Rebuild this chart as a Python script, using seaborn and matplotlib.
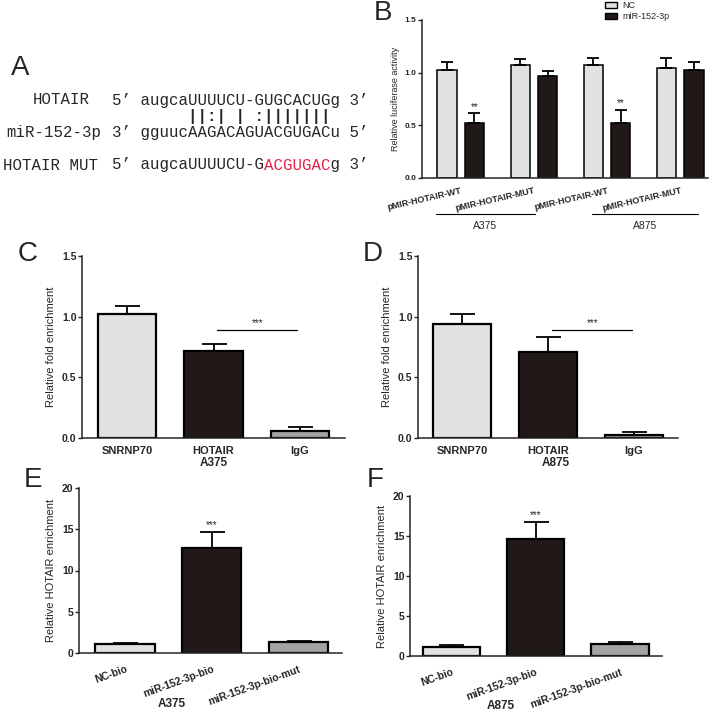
import matplotlib
matplotlib.use("Agg")
import matplotlib.patches as mpatches
import matplotlib.pyplot as plt
import matplotlib.transforms as mtransforms
import pandas as pd
import seaborn as sns

# ── Data ─────────────────────────────────────────────────────────────────────
# A: sequence alignment
seq_names = ["HOTAIR", "miR-152-3p", "HOTAIR MUT"]
seq_hotair = "5’ augcaUUUUCU-GUGCACUGg 3’"
seq_pairs = "        ||:| | :|||||||"
seq_mir = "3’ gguucAAGACAGUACGUGACu 5’"
seq_mut = "5’ augcaUUUUCU-GACGUGACg 3’"
mut_span = (16, 23)

# B: luciferase reporter
b_constructs = ["pMIR-HOTAIR-WT", "pMIR-HOTAIR-MUT", "pMIR-HOTAIR-WT", "pMIR-HOTAIR-MUT"]
b_cells = ["A375", "A375", "A875", "A875"]
b_groups = ["NC", "miR-152-3p"]
b_nc = [1.03, 1.07, 1.07, 1.04]
b_nc_err = [0.07, 0.06, 0.07, 0.10]
b_mir = [0.52, 0.97, 0.52, 1.03]
b_mir_err = [0.10, 0.05, 0.13, 0.07]

# C/D: RIP
rip_targets = ["SNRNP70", "HOTAIR", "IgG"]
c_vals = [1.02, 0.72, 0.06]
c_err = [0.065, 0.055, 0.032]
d_vals = [0.94, 0.71, 0.027]
d_err = [0.08, 0.12, 0.025]

# E/F: biotin pull-down
pull_probes = ["NC-bio", "miR-152-3p-bio", "miR-152-3p-bio-mut"]
e_vals = [1.05, 12.75, 1.35]
e_err = [0.13, 1.9, 0.15]
f_vals = [1.17, 14.6, 1.55]
f_err = [0.17, 2.2, 0.2]

LIGHT, DARK, GREY = "#e1e2e2", "#231815", "#a3a3a3"
LETTER_FONT = ["Liberation Sans Narrow", "Liberation Sans", "DejaVu Sans"]
W, H = 720, 712

sns.set_theme(style="white")
plt.rcParams["font.family"] = ["Liberation Sans", "DejaVu Sans"]
plt.rcParams["axes.linewidth"] = 1.1

fig = plt.figure(figsize=(W / 100, H / 100), dpi=100)


def px_axes(left, top, right, bottom):
    return fig.add_axes([left / W, 1 - bottom / H, (right - left) / W, (bottom - top) / H])


def fig_text(x, y, s, **kw):
    fig.text(x / W, 1 - y / H, s, **kw)


def letter(x, y, s):
    fig_text(x, y, s, family=LETTER_FONT, fontsize=20, ha="center", va="center")


def style_axes(ax, ylim, yticks, fmt, tick_fs):
    ax.set_ylim(*ylim)
    ax.set_yticks(yticks)
    ax.set_yticklabels([fmt.format(t) for t in yticks], fontsize=tick_fs, fontweight="bold")
    sns.despine(ax=ax)
    ax.spines["left"].set_bounds(ylim[0], ylim[1])
    ax.tick_params(axis="y", left=True, length=3, width=1, pad=1)
    ax.tick_params(axis="x", bottom=False, pad=0)


def add_errors(ax, errs, capsize):
    for patch, err in zip(ax.patches, errs):
        x = patch.get_x() + patch.get_width() / 2
        y = patch.get_height()
        ax.errorbar(x, y, yerr=[[0], [err]], fmt="none", ecolor="black",
                    elinewidth=1.3, capsize=capsize, capthick=1.3, zorder=1)


# ── A: alignment ─────────────────────────────────────────────────────────────
mono = dict(family="Liberation Mono", fontsize=11.3, va="center", ha="left")
letter(20, 68, "A")
fig_text(33, 100, seq_names[0], **mono)
fig_text(6, 133, seq_names[1], **mono)
fig_text(3, 165, seq_names[2], **mono)
fig_text(112, 100, seq_hotair, **mono)
fig_text(112, 117, seq_pairs, fontweight="bold", **mono)
fig_text(112, 133, seq_mir, **mono)
lo, hi = mut_span
black_part = seq_mut[:lo] + " " * (hi - lo) + seq_mut[hi:]
red_part = " " * lo + seq_mut[lo:hi]
fig_text(112, 165, black_part, **mono)
fig_text(112, 165, red_part, color="#e8204a", **mono)

# ── B: luciferase ────────────────────────────────────────────────────────────
b_keys = [f"{c} {k}" for c, k in zip(b_cells, b_constructs)]
df_b = pd.DataFrame({
    "key": b_keys * 2,
    "group": [b_groups[0]] * 4 + [b_groups[1]] * 4,
    "value": b_nc + b_mir,
})
axb = px_axes(422, 20, 708, 178)
sns.barplot(data=df_b, x="key", y="value", hue="group", order=b_keys, hue_order=b_groups,
            palette=[LIGHT, DARK], edgecolor="black", linewidth=1.1, width=0.75, gap=0.3,
            errorbar=None, legend=False, ax=axb)
add_errors(axb, b_nc_err + b_mir_err, 4)
axb.set_xlim(-0.53, 3.38)
style_axes(axb, (0, 1.5), [0, 0.5, 1.0, 1.5], "{:.1f}", 6)
axb.set_xticks(range(4))
axb.set_xticklabels(b_constructs, rotation=13, ha="right", rotation_mode="anchor",
                    fontsize=6.5, fontweight="bold")
axb.set_xlabel("")
axb.set_ylabel("Relative luciferase activity", fontsize=6.5, labelpad=3)
for i, (v, e) in enumerate(zip(b_mir, b_mir_err)):
    if b_constructs[i].endswith("WT"):
        x = axb.patches[4 + i].get_x() + axb.patches[4 + i].get_width() / 2
        axb.text(x, v + e + 0.01, "**", ha="center", va="bottom", fontsize=7)
trans = mtransforms.blended_transform_factory(axb.transData, axb.transAxes)
for x0, x1, cell in [(-0.34, 1.01, "A375"), (1.79, 3.25, "A875")]:
    axb.plot([x0, x1], [-0.228, -0.228], color="black", lw=0.8, transform=trans, clip_on=False)
    axb.text((x0 + x1) / 2, -0.27, cell, ha="center", va="top", fontsize=7.5, transform=trans)
letter(383, 13, "B")
handles = [mpatches.Patch(facecolor=c, edgecolor="black", linewidth=1, label=g)
           for c, g in zip([LIGHT, DARK], b_groups)]
fig.legend(handles=handles, loc="upper left", bbox_to_anchor=(604 / W, 1 - 0 / H),
           frameon=False, fontsize=6.5, handlelength=1.3, handleheight=0.7,
           labelspacing=0.25, borderaxespad=0, borderpad=0.1, handletextpad=0.6)


# ── C-F: single-series panels ────────────────────────────────────────────────
def single_panel(box, cats, vals, errs, ylim, yticks, fmt, ylabel, xlabel, xlim,
                 xlabel_pos, rotate, name, name_xy, star_y=None, sig=None):
    ax = px_axes(*box)
    df = pd.DataFrame({"cat": cats, "value": vals})
    sns.barplot(data=df, x="cat", y="value", hue="cat", order=cats, hue_order=cats,
                palette=[LIGHT, DARK, GREY], edgecolor="black", linewidth=1.6,
                width=0.68, errorbar=None, legend=False, ax=ax)
    add_errors(ax, errs, 9)
    ax.set_xlim(*xlim)
    style_axes(ax, ylim, yticks, fmt, 7.5)
    if rotate:
        ax.set_xticks(range(len(cats)))
        ax.set_xticklabels(cats, rotation=20, ha="right", rotation_mode="anchor",
                           fontsize=7.5, fontweight="bold")
        ax.tick_params(axis="x", pad=2)
    else:
        ax.tick_params(axis="x", labelsize=8)
        for t in ax.get_xticklabels():
            t.set_fontweight("bold")
    ax.set_ylabel(ylabel, fontsize=8, labelpad=4)
    ax.set_xlabel(xlabel, fontsize=8.5, fontweight="bold")
    ax.xaxis.set_label_coords(*xlabel_pos)
    ax.xaxis.label.set_va("center")
    if sig is not None:
        x0, x1, y = sig
        ax.plot([x0, x1], [y, y], color="black", lw=0.9)
        ax.text((x0 + x1) / 2, y + 0.02, "***", ha="center", va="bottom", fontsize=7)
    if star_y is not None:
        ax.text(1, star_y, "***", ha="center", va="bottom", fontsize=7)
    letter(*name_xy, name)
    return ax


single_panel((82, 256, 345, 438), rip_targets, c_vals, c_err, (0, 1.5), [0, 0.5, 1.0, 1.5],
             "{:.1f}", "Relative fold enrichment", "A375", (-0.52, 2.52), (0.5, -0.138),
             False, "C", (28, 254), sig=(1.04, 1.97, 0.89))
single_panel((418, 256, 678, 438), rip_targets, d_vals, d_err, (0, 1.5), [0, 0.5, 1.0, 1.5],
             "{:.1f}", "Relative fold enrichment", "A875", (-0.51, 2.51), (0.53, -0.138),
             False, "D", (373, 254), sig=(1.05, 1.98, 0.89))
single_panel((79, 488, 342, 653), pull_probes, e_vals, e_err, (0, 20), [0, 5, 10, 15, 20],
             "{:d}", "Relative HOTAIR enrichment", "A375", (-0.53, 2.5), (0.354, -0.31),
             True, "E", (33, 480), star_y=e_vals[1] + e_err[1] + 0.2)
single_panel((410, 496, 662, 656), pull_probes, f_vals, f_err, (0, 20), [0, 5, 10, 15, 20],
             "{:d}", "Relative HOTAIR enrichment", "A875", (-0.49, 2.5), (0.36, -0.31),
             True, "F", (375, 480), star_y=f_vals[1] + f_err[1] + 0.2)

fig.savefig("out.png", dpi=100)
